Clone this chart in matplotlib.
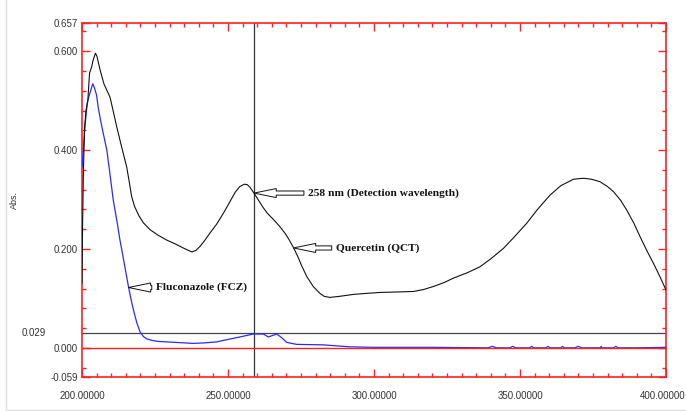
import numpy as np
import matplotlib
matplotlib.use('Agg')
import matplotlib.pyplot as plt
import matplotlib.transforms as mtransforms
from matplotlib.ticker import MultipleLocator, FixedLocator, FixedFormatter
from matplotlib.lines import Line2D

plt.rcParams['font.family'] = ['Liberation Sans', 'DejaVu Sans']

# Quercetin (QCT) spectrum
qct_wl = [200.0, 200.2, 200.5, 200.9, 201.4, 202.0, 202.3, 202.6, 203.3, 203.8,
          204.6, 205.1, 206.2, 207.5, 209.6, 211.9, 213.5, 215.3, 216.2, 217.0,
          218.0, 219.5, 221.0, 223.3, 226.0, 229.0, 232.0, 235.0, 237.6, 239.0,
          240.4, 242.0, 243.8, 246.1, 248.5, 250.7, 252.5, 254.0, 255.6, 256.6,
          257.5, 258.9, 260.5, 262.0, 263.5, 265.5, 267.5, 269.5, 271.0, 272.4,
          273.8, 275.3, 277.0, 279.2, 281.5, 283.0, 284.9, 288.0, 292.9, 297.0,
          302.1, 308.0, 313.5, 317.0, 320.3, 324.0, 327.2, 332.0, 336.3, 340.0,
          344.3, 348.0, 352.3, 356.0, 360.3, 364.0, 368.3, 371.7, 374.5, 377.4,
          380.0, 382.0, 384.5, 386.5, 389.0, 391.1, 393.5, 395.7, 398.0, 400.0]
qct_abs = [0.131, 0.250, 0.360, 0.447, 0.481, 0.500, 0.530, 0.556, 0.568, 0.582,
           0.596, 0.590, 0.562, 0.534, 0.507, 0.447, 0.408, 0.366, 0.335, 0.306,
           0.286, 0.267, 0.253, 0.239, 0.228, 0.218, 0.210, 0.201, 0.194, 0.197,
           0.205, 0.217, 0.232, 0.250, 0.273, 0.296, 0.315, 0.326, 0.331, 0.330,
           0.325, 0.313, 0.298, 0.284, 0.272, 0.260, 0.247, 0.232, 0.218, 0.203,
           0.186, 0.165, 0.144, 0.124, 0.110, 0.104, 0.102, 0.104, 0.108, 0.110,
           0.112, 0.113, 0.114, 0.118, 0.124, 0.132, 0.141, 0.152, 0.164, 0.180,
           0.201, 0.224, 0.252, 0.280, 0.309, 0.328, 0.341, 0.343, 0.341, 0.336,
           0.326, 0.316, 0.298, 0.279, 0.252, 0.225, 0.196, 0.171, 0.143, 0.117]

# Fluconazole (FCZ) spectrum
fcz_wl = [200.0, 200.2, 200.9, 201.8, 202.5, 203.2, 203.7, 204.3, 205.0, 205.5,
          206.3, 207.2, 208.5, 209.5, 210.7, 212.0, 213.0, 214.5, 215.9, 216.8,
          217.6, 218.8, 219.9, 221.0, 222.2, 224.0, 226.0, 232.0, 238.1, 242.0,
          246.1, 250.0, 254.1, 258.7, 262.1, 263.8, 266.7, 268.5, 270.1, 273.5,
          282.6, 291.8, 300.0, 320.0, 339.0, 340.5, 342.0, 346.5, 347.5, 348.5,
          353.3, 354.0, 354.7, 358.9, 359.6, 360.3, 364.0, 364.6, 365.2, 368.8,
          370.0, 371.2, 377.4, 377.8, 378.1, 382.0, 382.8, 383.6, 390.0, 400.0]
fcz_abs = [0.366, 0.380, 0.441, 0.495, 0.511, 0.525, 0.534, 0.525, 0.511, 0.488,
           0.462, 0.436, 0.400, 0.355, 0.299, 0.255, 0.218, 0.170, 0.124, 0.098,
           0.077, 0.050, 0.032, 0.023, 0.018, 0.015, 0.013, 0.011, 0.009, 0.010,
           0.012, 0.017, 0.022, 0.028, 0.028, 0.022, 0.028, 0.020, 0.011, 0.007,
           0.006, 0.002, 0.001, 0.001, 0.000, 0.003, 0.000, 0.000, 0.003, 0.000,
           0.000, 0.003, 0.000, 0.000, 0.003, 0.000, 0.000, 0.003, 0.000, 0.000,
           0.003, 0.000, 0.000, 0.003, 0.000, 0.000, 0.003, 0.000, 0.000, 0.001]

detect_wl = 258.9
base_abs = 0.029
y_lo, y_hi = -0.059, 0.657
y_major = [-0.059, 0.0, 0.2, 0.4, 0.6, 0.657]
y_major_lbl = ['-0.059', '0.000', '0.200', '0.400', '0.600', '0.657']
x_major = [200, 250, 300, 350, 400]
x_major_lbl = ['200.00000', '250.00000', '300.00000', '350.00000', '400.00000']

RED = '#ff2020'
LBL = '#333333'

fig = plt.figure(figsize=(6.86, 4.11), dpi=100)
ax = fig.add_axes([82 / 686, 1 - 377 / 411, 584 / 686, 354 / 411])

ax.plot(fcz_wl, fcz_abs, color='#2a2aff', lw=0.9, zorder=3)
ax.plot(qct_wl, qct_abs, color='#111111', lw=0.8, zorder=4)
ax.axhline(0.0, color=RED, lw=1.0, zorder=3.5)
ax.axhline(base_abs, color='#444444', lw=0.9, zorder=2)
ax.axvline(detect_wl, color='#333333', lw=0.9, zorder=2)

ax.set_xlim(200, 400)
ax.set_ylim(y_lo, y_hi)

ax.xaxis.set_major_locator(FixedLocator(x_major))
ax.xaxis.set_major_formatter(FixedFormatter(x_major_lbl))
ax.xaxis.set_minor_locator(MultipleLocator(5))
ax.yaxis.set_major_locator(FixedLocator(y_major))
ax.yaxis.set_major_formatter(FixedFormatter(y_major_lbl))
ax.yaxis.set_minor_locator(FixedLocator(np.arange(-0.04, 0.65, 0.04)))

ax.tick_params(which='both', direction='in', colors=RED, labelcolor=LBL,
               top=True, right=True, labelsize=7, width=1)
ax.tick_params(which='major', length=6)
ax.tick_params(which='minor', length=3)
ax.tick_params(axis='x', pad=10)
ax.tick_params(axis='y', pad=3)
for s in ax.spines.values():
    s.set_color(RED)
    s.set_linewidth(1.2)

# last x label sits on the image edge: nudge it left a touch so it isn't clipped
fig.canvas.draw()
last = ax.get_xticklabels()[-1]
last.set_transform(last.get_transform() +
                   mtransforms.ScaledTranslation(-3 / 100, 0, fig.dpi_scale_trans))

ax.text(-0.062, base_abs, '0.029', transform=ax.get_yaxis_transform(),
        ha='right', va='center', fontsize=7, color=LBL)
ax.set_ylabel('Abs.', fontsize=6.5, color=LBL)
ax.yaxis.set_label_coords(-0.108, 0.5)

# hollow arrows + labels
arrow = dict(arrowstyle='simple,head_length=1.6,head_width=0.65,tail_width=0.3',
             fc='white', ec='#111111', lw=0.7, shrinkA=0, shrinkB=0,
             mutation_scale=10)
notes = [("258 nm (Detection wavelength)", detect_wl, 0.313, 276.0),
         ("Quercetin (QCT)", 272.4, 0.202, 285.5),
         ("Fluconazole (FCZ)", 215.9, 0.122, 223.9)]
for txt, tx, ty, tail in notes:
    ax.annotate('', xy=(tx, ty), xytext=(tail, ty), arrowprops=arrow, zorder=6)
    ax.text(tail + 1.4, ty, txt, ha='left', va='center', fontsize=8.2,
            fontweight='bold', family='Liberation Serif', color='#111111',
            zorder=6)

# faint outer frame of the screenshot
fig.add_artist(Line2D([5.5 / 686, 5.5 / 686], [1.5 / 411, 1.0], color='#dddddd',
                      lw=1, transform=fig.transFigure))
fig.add_artist(Line2D([5.5 / 686, 1.0], [1.5 / 411, 1.5 / 411], color='#dddddd',
                      lw=1, transform=fig.transFigure))

fig.savefig('out.png', dpi=100)
